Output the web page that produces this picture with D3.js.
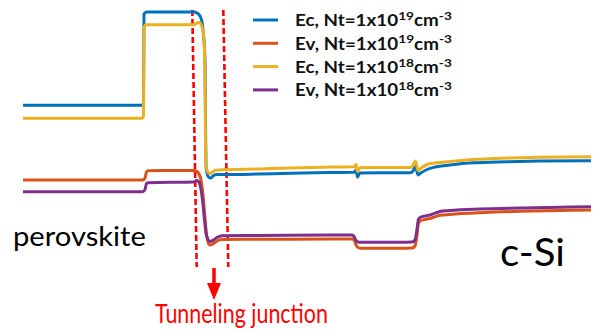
<!DOCTYPE html>
<html><head><meta charset="utf-8">
<script src="https://cdn.jsdelivr.net/npm/d3@7"></script>
<style>html,body{margin:0;padding:0;background:#fff;} svg{display:block;}</style>
</head><body><svg id="c" width="600" height="334"></svg>
<script>
// position (a.u.) , energy (eV)
const ecNt19 = [[0,-0.106],[1.19,-0.106],[1.205,-0.06],[1.21,1.72],[1.225,1.754],[1.24,1.76],[1.71,1.76],[1.74,1.74],[1.77,1.68],[1.79,1.56],[1.805,1.30],[1.82,0.80],[1.825,-0.40],[1.83,-1.30],[1.84,-1.46],[1.86,-1.55],[1.88,-1.56],[1.90,-1.52],[1.93,-1.49],[1.99,-1.49],[2.37,-1.48],[3.07,-1.45],[3.31,-1.446],[3.33,-1.40],[3.345,-1.54],[3.37,-1.46],[3.57,-1.456],[3.87,-1.456],[3.90,-1.42],[3.925,-1.33],[3.95,-1.50],[3.97,-1.47],[4.04,-1.39],[4.12,-1.34],[4.27,-1.30],[4.50,-1.256],[4.84,-1.234],[5.17,-1.22],[5.68,-1.214]];
const evNt19 = [[0,-1.60],[1.20,-1.60],[1.22,-1.56],[1.235,-1.44],[1.25,-1.414],[1.71,-1.41],[1.74,-1.43],[1.76,-1.48],[1.78,-1.60],[1.80,-1.90],[1.82,-2.36],[1.835,-2.68],[1.85,-2.84],[1.87,-2.90],[1.90,-2.88],[1.94,-2.82],[1.99,-2.79],[2.37,-2.786],[3.07,-2.78],[3.29,-2.78],[3.31,-2.80],[3.33,-2.90],[3.35,-2.95],[3.38,-2.966],[3.77,-2.966],[3.89,-2.96],[3.92,-2.92],[3.94,-2.70],[3.955,-2.46],[3.98,-2.41],[4.07,-2.37],[4.17,-2.306],[4.27,-2.29],[4.57,-2.256],[4.97,-2.226],[5.37,-2.21],[5.68,-2.20]];
const ecNt18 = [[0,-0.366],[1.19,-0.366],[1.205,-0.32],[1.21,1.46],[1.23,1.506],[1.71,1.506],[1.74,1.54],[1.76,1.554],[1.78,1.51],[1.80,1.38],[1.815,1.00],[1.822,0.00],[1.826,-1.20],[1.835,-1.36],[1.85,-1.45],[1.87,-1.47],[1.89,-1.45],[1.92,-1.41],[1.99,-1.396],[2.37,-1.38],[3.07,-1.34],[3.31,-1.336],[3.33,-1.29],[3.345,-1.43],[3.37,-1.354],[3.57,-1.352],[3.87,-1.352],[3.90,-1.31],[3.925,-1.22],[3.95,-1.41],[3.97,-1.38],[4.04,-1.29],[4.12,-1.26],[4.27,-1.23],[4.50,-1.19],[4.84,-1.16],[5.17,-1.144],[5.68,-1.134]];
const evNt18 = [[0,-1.834],[1.20,-1.834],[1.22,-1.79],[1.235,-1.67],[1.25,-1.654],[1.71,-1.64],[1.735,-1.61],[1.755,-1.63],[1.775,-1.74],[1.795,-2.00],[1.815,-2.40],[1.83,-2.66],[1.85,-2.79],[1.87,-2.83],[1.90,-2.806],[1.94,-2.75],[1.99,-2.716],[2.37,-2.71],[3.07,-2.70],[3.29,-2.70],[3.31,-2.73],[3.33,-2.81],[3.35,-2.84],[3.38,-2.846],[3.77,-2.846],[3.89,-2.84],[3.92,-2.80],[3.94,-2.58],[3.955,-2.38],[3.98,-2.34],[4.07,-2.30],[4.17,-2.23],[4.27,-2.21],[4.57,-2.18],[4.97,-2.16],[5.37,-2.144],[5.68,-2.134]];

const seriesData = [ecNt19, evNt19, ecNt18, evNt18];
const seriesBand = ["Ec", "Ev", "Ec", "Ev"];
const seriesExp = ["19", "19", "18", "18"];
const seriesColors = ["#0072BD", "#D95319", "#EDB120", "#7E2F8E"];

const junctionTopX = [1.693, 2.003];
const junctionBottomX = [1.737, 2.053];
const junctionE = [1.8, -3.34];
const arrowX = 1.91;
const arrowE = [-3.36, -4.0];

const labelLeft = "perovskite";
const labelRight = "c-Si";
const labelJunction = "Tunneling junction";

const svg = d3.select("#c");
const x = d3.scaleLinear().domain([0, 5.68]).range([23, 591]);
const y = d3.scaleLinear().domain([2, -4.68]).range([0, 334]);

// junction dashed lines
junctionTopX.forEach((xt, i) => {
  svg.append("line")
    .attr("x1", x(xt)).attr("y1", y(junctionE[0]))
    .attr("x2", x(junctionBottomX[i])).attr("y2", y(junctionE[1]))
    .attr("stroke", "#FF0000").attr("stroke-width", 2.6)
    .attr("stroke-dasharray", "6,3");
});

const line = d3.line().x(d => x(d[0])).y(d => y(d[1])).curve(d3.curveMonotoneX);
seriesData.forEach((s, i) => {
  svg.append("path").attr("d", line(s)).attr("fill", "none")
    .attr("stroke", seriesColors[i]).attr("stroke-width", 3)
    .attr("stroke-linejoin", "round").attr("stroke-linecap", "butt");
});

// arrow
const ax = x(arrowX);
svg.append("line").attr("x1", ax).attr("x2", ax)
  .attr("y1", y(arrowE[0])).attr("y2", y(arrowE[1]) - 15)
  .attr("stroke", "#FF0000").attr("stroke-width", 3.5);
svg.append("path")
  .attr("d", `M${ax-7},${y(arrowE[1])-17} L${ax+7},${y(arrowE[1])-17} L${ax},${y(arrowE[1])} Z`)
  .attr("fill", "#FF0000");

function fit(sel, w) {
  const node = sel.node();
  const cur = node.getComputedTextLength();
  const x0 = +sel.attr("x");
  const s = w / cur;
  sel.attr("transform", `translate(${x0},0) scale(${s},1) translate(${-x0},0)`);
}

// legend
const lg = svg.append("g");
seriesBand.forEach((b, i) => {
  const ly = 20 + i * 23.3;
  lg.append("line").attr("x1", 253).attr("x2", 278).attr("y1", ly).attr("y2", ly)
    .attr("stroke", seriesColors[i]).attr("stroke-width", 3);
  const t = lg.append("text").attr("x", 295).attr("y", ly + 6.5)
    .attr("font-family", "Lato, 'Open Sans', sans-serif").attr("font-weight", "bold")
    .attr("font-size", 16.5).attr("fill", "#111");
  t.append("tspan").text(`${b}, Nt=1x10`);
  t.append("tspan").attr("font-size", 12).attr("dy", -6.5).text(seriesExp[i]);
  t.append("tspan").attr("dy", 6.5).text("cm");
  t.append("tspan").attr("font-size", 12).attr("dy", -6.5).text("-3");
  fit(t, 157);
});

const tl = svg.append("text").attr("x", 13).attr("y", 246.5)
  .attr("font-family", "Lato, sans-serif").attr("font-size", 26).attr("fill", "#000").text(labelLeft);
fit(tl, 133);
const tr = svg.append("text").attr("x", 500).attr("y", 266.5)
  .attr("font-family", "Lato, sans-serif").attr("font-size", 39).attr("fill", "#000").text(labelRight);
fit(tr, 65);
const tj = svg.append("text").attr("x", 155).attr("y", 323.5)
  .attr("font-family", "Lato, sans-serif").attr("font-size", 27).attr("fill", "#FF0000").text(labelJunction);
fit(tj, 173);
</script></body></html>
